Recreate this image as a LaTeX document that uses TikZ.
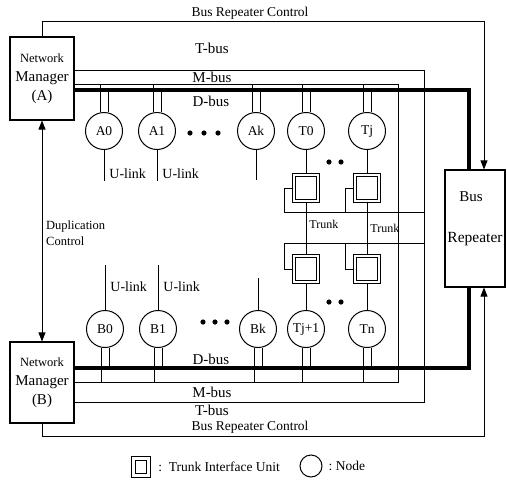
\documentclass[tikz,border=0pt]{standalone}
\usepackage{fontspec}
\setmainfont{Liberation Serif}
\usetikzlibrary{arrows.meta,positioning}

\tikzset{
  nodecirc/.style={draw, circle, minimum size=37pt, inner sep=0pt, line width=1pt,
    font=\fontsize{13.5}{15}\selectfont},
  tiu/.style={draw, double, double distance=2.2pt, line width=1.1pt,
    minimum width=24pt, minimum height=26pt, inner sep=0pt},
  mgr/.style={draw, line width=1.1pt, minimum width=64pt, inner sep=0pt, align=center,
    font=\fontsize{15}{19}\selectfont},
  busline/.style={line width=0.8pt},
  dbus/.style={line width=3.6pt},
  buslabel/.style={font=\fontsize{15}{17}\selectfont, inner sep=1pt},
  ctrlabel/.style={font=\fontsize{13.5}{15}\selectfont, inner sep=1pt},
  ulabel/.style={font=\fontsize{14}{15}\selectfont, anchor=west, inner sep=1pt, xshift=4pt},
  trunklabel/.style={font=\fontsize{12}{13}\selectfont, anchor=west, inner sep=1pt, xshift=2pt},
  ctrl/.style={-{Triangle[length=9pt,width=7pt]}, line width=0.8pt},
}

\begin{document}
\begin{tikzpicture}[x=1pt,y=-1pt]
  \useasboundingbox (0,0) rectangle (507,488);

  % MANAGERS AND REPEATER
  \node[mgr, minimum height=83pt] (mgrA) at (42,78.5)
    {{\fontsize{12.5}{19}\selectfont Network}\\Manager\\(A)};
  \node[mgr, minimum height=81pt] (mgrB) at (42,382.5)
    {{\fontsize{12.5}{19}\selectfont Network}\\Manager\\(B)};
  \node[draw, line width=1.1pt, minimum width=60pt, minimum height=117pt] (rep) at (475,228.5) {};
  \node[buslabel] at (471,197) {Bus};
  \node[buslabel, font=\fontsize{15.5}{17}\selectfont] at (475,239) {Repeater};

  % BUS ends at the managers
  \coordinate (tA) at (74,70);
  \coordinate (mA) at (74,84);
  \coordinate (dA) at (74,90);
  \coordinate (tB) at (74,402);
  \coordinate (mB) at (74,382);
  \coordinate (dB) at (74,368);

  \draw[busline] (tA) -- ++(350,0) |- (tB);   % T-bus
  \draw[busline] (mA) -- ++(324,0) |- (mB);   % M-bus
  \draw[dbus] (dA) -| ([xshift=-6pt]rep.north);   % D-bus
  \draw[dbus] (dB) -| ([xshift=-6pt]rep.south);

  \node[buslabel] at (212,48) {T-bus};
  \node[buslabel] at (212,77) {M-bus};
  \node[buslabel] at (211,101) {D-bus};
  \node[buslabel] at (211,359) {D-bus};
  \node[buslabel] at (212,392) {M-bus};
  \node[buslabel] at (212,410) {T-bus};

  % NODES
  \foreach \n/\x in {A0/104, A1/157, Ak/256, T0/306, Tj/367}
    \node[nodecirc] (\n) at (\x,131) {\n};
  \foreach \n/\lbl/\x in {B0/B0/105, B1/B1/158, Bk/Bk/258, Tj1/Tj+1/306, Tn/Tn/367}
    \node[nodecirc] (\n) at (\x,329) {\lbl};

  % pipes to M-bus and D-bus
  \foreach \n in {A0,A1,Ak,T0,Tj} {
    \draw[busline] ([xshift=-4pt]\n.north) -- ([xshift=-4pt]\n.north |- mA);
    \draw[busline] ([xshift=4pt]\n.north) -- ([xshift=4pt]\n.north |- dA);
  }
  \foreach \n in {B0,B1,Bk,Tj1,Tn} {
    \draw[busline] ([xshift=-4pt]\n.south) -- ([xshift=-4pt]\n.south |- mB);
    \draw[busline] ([xshift=4pt]\n.south) -- ([xshift=4pt]\n.south |- dB);
  }

  % U-links
  \draw[busline] (A0.south) -- ++(0,31) node[pos=0.76, ulabel] {U-link};
  \draw[busline] (A1.south) -- ++(0,31) node[pos=0.76, ulabel] {U-link};
  \draw[busline] (Ak.south) -- ++(0,30);
  \draw[busline] (B0.north) -- ++(0,-45) node[pos=0.52, ulabel] {U-link};
  \draw[busline] (B1.north) -- ++(0,-45) node[pos=0.52, ulabel] {U-link};
  \draw[busline] (Bk.north) -- ++(0,-32);

  % dots
  \foreach \x in {190,204,218} \fill (\x,133) circle (2.6pt);
  \foreach \x in {203,215,227} \fill (\x,322) circle (2.6pt);
  \foreach \x in {329,341} {
    \fill (\x,162) circle (2.6pt);
    \fill (\x,302) circle (2.6pt);
  }

  % TRUNK INTERFACE UNITS
  \node[tiu] (tiuT0) at (306,188) {};
  \node[tiu] (tiuTj) at (367,188) {};
  \node[tiu] (tiuTj1) at (306,269) {};
  \node[tiu] (tiuTn) at (367,269) {};
  \coordinate (trkA) at (424,212);
  \coordinate (trkB) at (424,243);

  \draw[busline] (T0) -- (tiuT0);
  \draw[busline] (Tj) -- (tiuTj);
  \draw[busline] (Tj1) -- (tiuTj1);
  \draw[busline] (Tn) -- (tiuTn);

  \draw[busline] (tiuT0) -- node[pos=0.42, trunklabel] {Trunk} (tiuTj1);
  \draw[busline] (tiuTj) -- node[pos=0.5, trunklabel] {Trunk} (tiuTn);

  \draw[busline] (tiuT0.west) -- ++(-9,0) -- ++(0,24) -- (trkA);
  \draw[busline] (tiuTj.west) -- ++(-9,0) -- ++(0,24);
  \draw[busline] (tiuTj1.west) -- ++(-9,0) -- ++(0,-26) -- (trkB);
  \draw[busline] (tiuTn.west) -- ++(-9,0) -- ++(0,-26);

  % CONTROL ARROWS
  \draw[ctrl] (mgrA.north) -- ++(0,-15) -| ([xshift=9pt]rep.north);
  \draw[ctrl] (mgrB.south) -- ++(0,13) -| ([xshift=9pt]rep.south);
  \node[ctrlabel] at (250,13) {Bus Repeater Control};
  \node[ctrlabel] at (250,427.5) {Bus Repeater Control};

  \draw[{Triangle[length=9pt,width=7pt]}-{Triangle[length=9pt,width=7pt]}, line width=0.8pt]
    (mgrA.south) -- (mgrB.north);
  \node[anchor=west, align=left, inner sep=1pt, font=\fontsize{12.5}{16}\selectfont]
    at (45,233) {Duplication\\Control};

  % LEGEND
  \node[tiu, minimum width=15pt, minimum height=17pt] (legtiu) at (141,467) {};
  \node[ctrlabel, right=8pt of legtiu] (legtiutxt) {:\ \ Trunk Interface Unit};
  \node[draw, circle, minimum size=22pt, inner sep=0pt, line width=1pt] (legnode) at (311,466) {};
  \node[ctrlabel, right=5pt of legnode] (legnodetxt) {:\ Node};
\end{tikzpicture}
\end{document}
